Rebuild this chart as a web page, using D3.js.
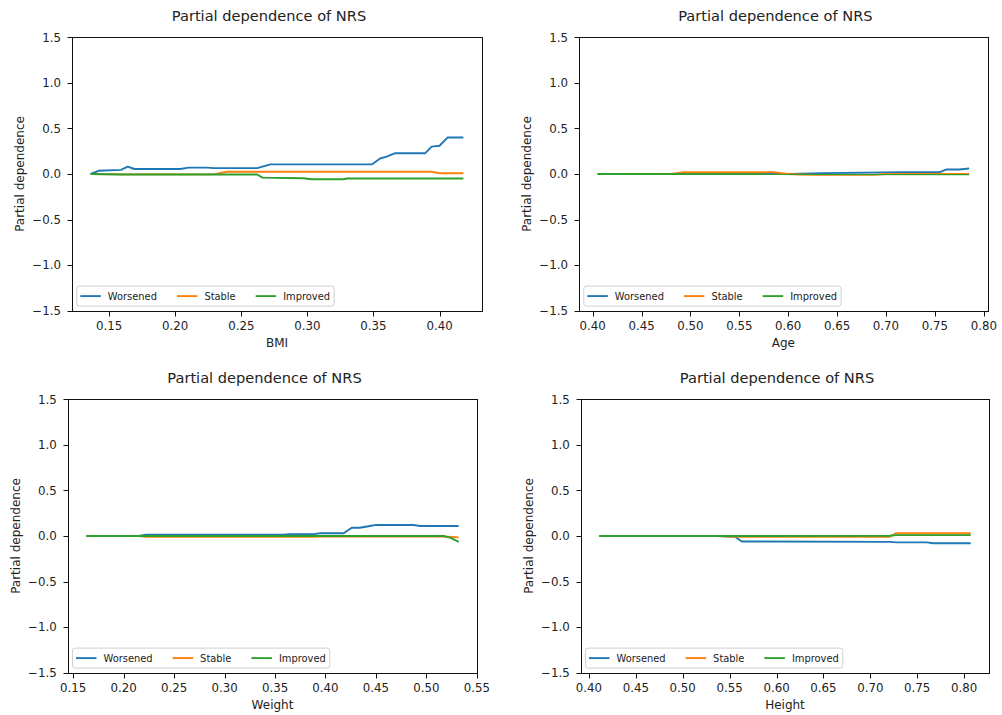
<!DOCTYPE html>
<html>
<head>
<meta charset="utf-8">
<script src="https://cdn.jsdelivr.net/npm/d3@7"></script>
<style>
  html, body { margin: 0; padding: 0; background: #fff; }
  svg { display: block; font-family: "DejaVu Sans", sans-serif; }
</style>
</head>
<body>
<svg id="chart" width="1002" height="715"></svg>
<script>
// Partial dependence curves per feature: [feature value, partial dependence]
const seriesNames = ["Worsened", "Stable", "Improved"];
const seriesColors = ["#1f77b4", "#ff7f0e", "#2ca02c"];

const bmiWorsened = [[0.136,0],[0.142,0.035],[0.159,0.045],[0.164,0.08],[0.169,0.055],[0.204,0.055],[0.210,0.07],[0.224,0.07],[0.229,0.065],[0.262,0.065],[0.272,0.106],[0.349,0.106],[0.355,0.17],[0.360,0.19],[0.366,0.227],[0.389,0.227],[0.394,0.30],[0.400,0.31],[0.406,0.40],[0.418,0.40]];
const bmiStable = [[0.136,0],[0.160,-0.004],[0.229,-0.004],[0.239,0.025],[0.394,0.025],[0.400,0.008],[0.418,0.008]];
const bmiImproved = [[0.136,0],[0.159,-0.005],[0.262,-0.005],[0.266,-0.04],[0.297,-0.047],[0.303,-0.058],[0.327,-0.058],[0.330,-0.05],[0.418,-0.05]];

const ageWorsened = [[0.405,0],[0.600,0],[0.636,0.01],[0.717,0.02],[0.755,0.02],[0.762,0.05],[0.775,0.05],[0.785,0.06]];
const ageStable = [[0.405,0],[0.480,0],[0.493,0.02],[0.585,0.02],[0.600,0],[0.612,-0.005],[0.630,-0.01],[0.687,-0.01],[0.700,0],[0.785,0]];
const ageImproved = [[0.405,0],[0.785,-0.003]];

const weightWorsened = [[0.163,0],[0.215,0],[0.222,0.015],[0.358,0.015],[0.365,0.02],[0.388,0.02],[0.395,0.03],[0.418,0.03],[0.426,0.09],[0.434,0.09],[0.444,0.11],[0.449,0.12],[0.487,0.12],[0.494,0.11],[0.532,0.11]];
const weightStable = [[0.163,0],[0.215,0],[0.222,-0.01],[0.388,-0.01],[0.395,-0.005],[0.517,-0.005],[0.532,-0.015]];
const weightImproved = [[0.163,0],[0.517,0],[0.524,-0.02],[0.532,-0.065]];

const heightWorsened = [[0.411,0],[0.537,0],[0.556,-0.01],[0.563,-0.06],[0.721,-0.065],[0.728,-0.07],[0.760,-0.07],[0.767,-0.08],[0.807,-0.08]];
const heightStable = [[0.411,0],[0.537,0],[0.556,-0.008],[0.721,-0.008],[0.727,0.03],[0.807,0.03]];
const heightImproved = [[0.411,0],[0.600,0],[0.721,0.003],[0.727,0.01],[0.807,0.01]];

const yTicks = [-1.5, -1.0, -0.5, 0.0, 0.5, 1.0, 1.5];
const bmiTicks = [0.15, 0.20, 0.25, 0.30, 0.35, 0.40];
const ageTicks = [0.40, 0.45, 0.50, 0.55, 0.60, 0.65, 0.70, 0.75, 0.80];
const weightTicks = [0.15, 0.20, 0.25, 0.30, 0.35, 0.40, 0.45, 0.50, 0.55];
const heightTicks = [0.40, 0.45, 0.50, 0.55, 0.60, 0.65, 0.70, 0.75, 0.80];

const titleText = "Partial dependence of NRS";
const yLabelText = "Partial dependence";

// Axes boxes in pixels
const panels = [
  { xlabel: "BMI",    left: 72,    top: 37.3,  width: 410,   height: 273.4, ticks: bmiTicks,    data: [bmiWorsened, bmiStable, bmiImproved] },
  { xlabel: "Age",    left: 579,   top: 37.3,  width: 408.7, height: 273.4, ticks: ageTicks,    data: [ageWorsened, ageStable, ageImproved] },
  { xlabel: "Weight", left: 67.7,  top: 399.3, width: 409.6, height: 273.4, ticks: weightTicks, data: [weightWorsened, weightStable, weightImproved] },
  { xlabel: "Height", left: 580.7, top: 399.3, width: 408.6, height: 273.4, ticks: heightTicks, data: [heightWorsened, heightStable, heightImproved] }
];

const svg = d3.select("#chart");
const minus = s => s.replace("-", "\u2212");
const textColor = "#222";

panels.forEach(p => {
  const allX = p.data.flat().map(d => d[0]);
  const [x0, x1] = d3.extent(allX);
  const pad = (x1 - x0) * 0.05;
  const x = d3.scaleLinear().domain([x0 - pad, x1 + pad]).range([p.left, p.left + p.width]);
  const y = d3.scaleLinear().domain([-1.5, 1.5]).range([p.top + p.height, p.top]);

  const g = svg.append("g");
  const L = Math.round(p.left) + 0.5, R = Math.round(p.left + p.width) + 0.5;
  const T = Math.round(p.top) + 0.5, B = Math.round(p.top + p.height) + 0.5;

  // clip region for curves
  const clipId = "clip-" + p.xlabel;
  svg.append("clipPath").attr("id", clipId).append("rect")
    .attr("x", L).attr("y", T).attr("width", R - L).attr("height", B - T);

  // curves
  const line = d3.line().x(d => x(d[0])).y(d => y(d[1]));
  p.data.forEach((series, i) => {
    g.append("path")
      .datum(series)
      .attr("d", line)
      .attr("fill", "none")
      .attr("stroke", seriesColors[i])
      .attr("stroke-width", 1.9)
      .attr("stroke-linejoin", "round")
      .attr("stroke-linecap", "butt")
      .attr("clip-path", `url(#${clipId})`);
  });

  // legend (lower left, three columns)
  const fs = 9.9;
  const lg = g.append("g");
  const boxLeft = p.left + 4.8;
  const boxH = 20;
  const boxBottom = p.top + p.height - 4.6;
  const boxTop = boxBottom - boxH;
  const midY = boxTop + boxH / 2;
  const box = lg.append("rect")
    .attr("x", boxLeft).attr("y", boxTop).attr("height", boxH)
    .attr("rx", 2.5).attr("ry", 2.5)
    .attr("fill", "#fff").attr("fill-opacity", 0.8)
    .attr("stroke", "#d0d0d0").attr("stroke-width", 1);
  let cx = boxLeft + 3.5;
  seriesNames.forEach((name, i) => {
    lg.append("line")
      .attr("x1", cx).attr("x2", cx + 20.5)
      .attr("y1", midY).attr("y2", midY)
      .attr("stroke", seriesColors[i]).attr("stroke-width", 1.9);
    const t = lg.append("text")
      .attr("x", cx + 20.5 + 7).attr("y", midY + fs * 0.36)
      .attr("font-size", fs).attr("fill", textColor)
      .text(name);
    const tw = t.node().getComputedTextLength();
    cx = cx + 20.5 + 7 + tw + (i < seriesNames.length - 1 ? 20 : 4);
  });
  box.attr("width", cx - boxLeft);

  // spines
  g.append("rect")
    .attr("x", L).attr("y", T).attr("width", R - L).attr("height", B - T)
    .attr("fill", "none").attr("stroke", "#111").attr("stroke-width", 1);

  // y ticks
  yTicks.forEach(v => {
    const yy = Math.round(y(v)) + 0.5;
    g.append("line").attr("x1", L - 5).attr("x2", L).attr("y1", yy).attr("y2", yy)
      .attr("stroke", "#111").attr("stroke-width", 1);
    g.append("text")
      .attr("x", p.left - 11).attr("y", y(v) + 4.2)
      .attr("text-anchor", "end").attr("font-size", 11.8).attr("fill", textColor)
      .text(minus(d3.format(".1f")(v)));
  });

  // x ticks
  p.ticks.forEach(v => {
    const xx = Math.round(x(v)) + 0.5;
    g.append("line").attr("x1", xx).attr("x2", xx).attr("y1", B).attr("y2", B + 5)
      .attr("stroke", "#111").attr("stroke-width", 1);
    g.append("text")
      .attr("x", x(v)).attr("y", p.top + p.height + 19.5)
      .attr("text-anchor", "middle").attr("font-size", 11.8).attr("fill", textColor)
      .text(d3.format(".2f")(v));
  });

  // axis labels and title
  const cxAxes = p.left + p.width / 2;
  g.append("text")
    .attr("x", cxAxes).attr("y", p.top + p.height + 36)
    .attr("text-anchor", "middle").attr("font-size", 12).attr("fill", textColor)
    .text(p.xlabel);
  g.append("text")
    .attr("transform", `translate(${p.left - 48},${p.top + p.height / 2}) rotate(-90)`)
    .attr("text-anchor", "middle").attr("font-size", 12).attr("fill", textColor)
    .text(yLabelText);
  g.append("text")
    .attr("x", cxAxes - 8).attr("y", p.top - 16.6)
    .attr("text-anchor", "middle").attr("font-size", 14.6).attr("fill", textColor)
    .text(titleText);
});
</script>
</body>
</html>
